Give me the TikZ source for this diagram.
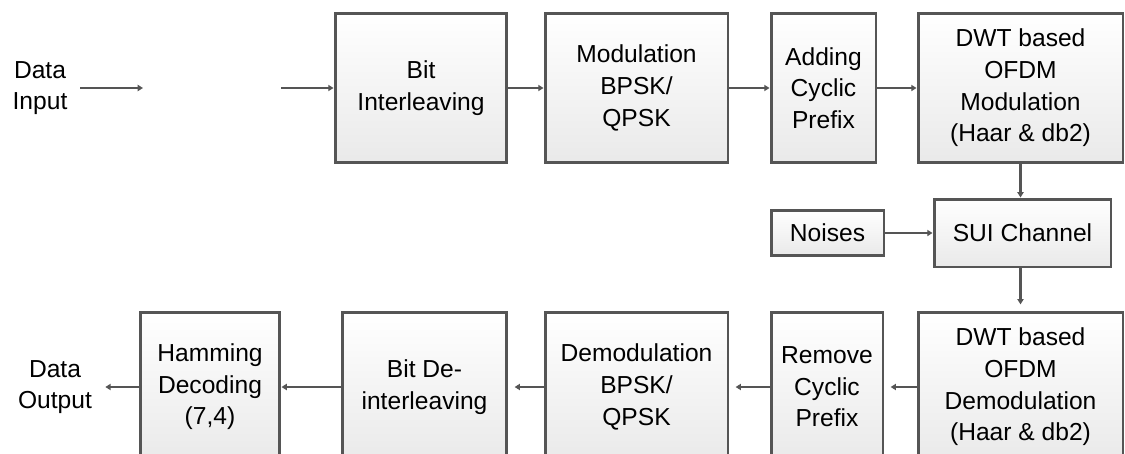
\documentclass[tikz,border=0pt]{standalone}
\usepackage{fontspec}
\setmainfont{Liberation Sans}
\usetikzlibrary{arrows.meta}
\definecolor{boxline}{HTML}{555555}

\begin{document}
\begin{tikzpicture}[x=0.02cm, y=-0.02cm,
    every node/.style={font=\fontsize{14}{18}\selectfont, align=center},
    blk/.style={draw=boxline, line width=1.7pt, top color=white, bottom color=gray!17, inner sep=2pt},
    big/.style={blk, minimum height=3cm},
    con/.style={draw=boxline, line width=1.2pt, -{Triangle[length=3pt,width=3.5pt]}},
    gap/.style={shorten >=3.5pt}]
    \useasboundingbox (0,0) rectangle (1125,453);
    \clip (0,0) rectangle (1125,453);

    % transmitter row
    \node[minimum width=1.6cm] (datain) at (40,88) {Data\\Input};
    \coordinate (gapin) at (143,88);
    \coordinate (gapout) at (281,88);
    \node[big, minimum width=3.44cm] (bitint) at (421,88) {Bit\\Interleaving};
    \node[big, minimum width=3.66cm] (mod) at (636.5,88) {Modulation\\BPSK/\\QPSK};
    \node[big, minimum width=2.1cm] (acp) at (823.5,88) {Adding\\Cyclic\\Prefix};
    \node[big, minimum width=4.1cm] (dwtmod) at (1020.5,88) {DWT based\\OFDM\\Modulation\\(Haar \& db2)};

    % channel
    \node[blk, minimum width=3.54cm, minimum height=1.36cm] (sui) at (1022.5,233) {SUI Channel};
    \node[blk, minimum width=2.26cm, minimum height=0.9cm] (noise) at (827.5,233) {Noises};

    % receiver row
    \node[big, minimum width=4.1cm] (dwtdemod) at (1020.5,387) {DWT based\\OFDM\\Demodulation\\(Haar \& db2)};
    \node[big, minimum width=2.24cm] (rcp) at (827,387) {Remove\\Cyclic\\Prefix};
    \node[big, minimum width=3.66cm] (demod) at (636.5,387) {Demodulation\\BPSK/\\QPSK};
    \node[big, minimum width=3.3cm] (bdi) at (424.5,387) {Bit De-\\interleaving};
    \node[big, minimum width=2.8cm] (ham) at (210,387) {Hamming\\Decoding\\(7,4)};
    \node[minimum width=2cm] (dataout) at (55,387) {Data\\Output};

    \draw[con] (datain.east) -- (gapin);
    \draw[con] (gapout) -- (bitint.west);
    \draw[con] (bitint.east) -- (mod.west);
    \draw[con] (mod.east) -- (acp.west);
    \draw[con] (acp.east) -- (dwtmod.west);
    \draw[con] (dwtmod.south) -- (dwtmod.south |- sui.north);
    \draw[con] (noise.east) -- (sui.west);
    \draw[con, gap] (dwtmod.south |- sui.south) -- (dwtmod.south |- dwtdemod.north);
    \draw[con, gap] (dwtdemod.west) -- (rcp.east);
    \draw[con, gap] (rcp.west) -- (demod.east);
    \draw[con, gap] (demod.west) -- (bdi.east);
    \draw[con] (bdi.west) -- (ham.east);
    \draw[con] (ham.west) -- (dataout.east);
\end{tikzpicture}
\end{document}
